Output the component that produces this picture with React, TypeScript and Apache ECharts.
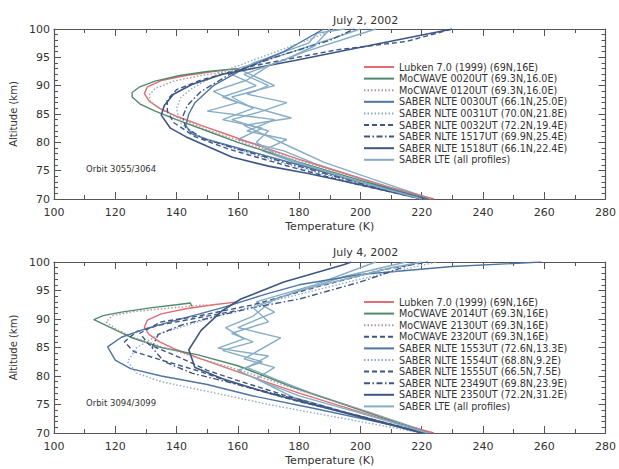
import React, { useEffect, useRef } from "react";
import * as echarts from "echarts";

// ---------- tick labels / axes ----------
const tempTicks = [100, 120, 140, 160, 180, 200, 220, 240, 260, 280];
const altTicks = [70, 75, 80, 85, 90, 95, 100];

// ---------- panel titles ----------
const titles = ["July 2, 2002", "July 4, 2002"];
const orbitLabels = ["Orbit 3055/3064", "Orbit 3094/3099"];

// ---------- Lubken 7.0 model (same in both panels): [T (K), altitude (km)] ----------
const lubkenModel = [[224,70],[210,72],[195,74.5],[180,77],[168,79.2],[157,81.3],[148,83],[140,84.6],[134.5,86],[131,87.3],[129.5,88.6],[130.5,89.8],[135,90.9],[143,91.8],[152,92.5],[160,93]];

// ---------- July 2, 2002 ----------
const mocwave0020 = [[222,70],[200,73.3],[180,76.5],[160,80],[150,82],[140,84],[133,85.5],[128,86.8],[125.5,88],[125.5,88.8],[128,89.8],[133,90.8],[141,91.8],[150,92.5],[160,93]];
const mocwave0120 = [[223,70],[201,73.4],[181,76.7],[162,80],[150,82.2],[141,84.2],[135,85.8],[131.5,87.2],[131,88.3],[133,89.5],[139,90.8],[148,91.8],[158,92.6],[165,93]];
const nlte0030 = [[222,70],[200,73],[180,76],[160,79],[150,80.5],[145,81.5],[143,83],[144,85],[146,87],[152,90],[162,93],[175,96],[188,100]];
const nlte0031 = [[221,70],[199,72.8],[178,75.8],[158,79],[147,81.2],[141,83.5],[140,86],[141.5,88],[145,89.5],[155,92.5],[170,95.5],[185,98.5],[192,100]];
const nlte0032 = [[220,70],[198,72.7],[177,75.7],[157,78.8],[146,81],[139,83.5],[137,85.5],[137,87.5],[140,89.3],[148,91],[165,93.5],[192,96.3],[215,97.8],[230,100]];
const nlte1517 = [[221,70],[199,72.9],[179,75.9],[160,78.8],[149,80.6],[143,82.5],[142,84.5],[143.5,86.5],[148,89],[158,92.2],[172,95],[190,98],[198,100]];
const nlte1518 = [[220,70],[200,72.5],[183,74.5],[170,75.8],[158,77.4],[150,79.3],[143,81],[138,82.5],[135,84.8],[136,86.5],[139,88.5],[145,90.2],[155,92],[179,94.5],[205,97.3],[230,100]];
const lteJul2A = [[220,70],[200,73],[182,76],[172,78],[166,80],[170,82],[158,84],[168,85.5],[176,87],[163,88.5],[170,90],[162,92],[175,94.5],[185,97],[190,100]];
const lteJul2B = [[222,70],[202,73.2],[185,76.3],[175,78.5],[160,80.5],[168,82.5],[155,84],[165,86],[158,88],[172,90],[160,93],[178,96],[200,100]];
const lteJul2C = [[223,70],[204,73.5],[188,76.5],[178,79],[170,81],[162,83],[177.5,84.3],[163,86.5],[155,88],[166,90],[158,92],[165,94],[183,97.5],[186,99.3],[195,100]];
const lteJul2D = [[221,70],[199,73],[181,76],[168,78.5],[176,80.5],[163,82],[172,84],[150,85.5],[160,87],[152,89],[163,91],[170,93.5],[182,96],[205,100]];

// ---------- July 4, 2002 ----------
const mocwave2014 = [[222,70],[200,74],[178,78],[160,81.8],[147,83.7],[135,85],[125,86.8],[118,88.6],[113,89.9],[116,90.6],[122,91.2],[132,92],[140,92.5],[144.5,92.8],[145,92.2]];
const mocwave2130 = [[222,70],[201,74],[180,77.5],[162,80.8],[148,83],[136,85],[126,86.8],[120,88.3],[117,89.5],[119,90.6],[126,91.3],[135,91.8],[150,92.5]];
const mocwave2320 = [[220,70],[200,73],[180,75.5],[160,78.5],[147,80.9],[135,82.8],[126,84.3],[123,86],[127,87.8],[135,89],[147,90.2],[160,91.5]];
const nlte1553 = [[222,70],[205,72],[185,74.3],[165,76.5],[150,78.5],[135,80],[125,81.3],[120,82.8],[117.5,85.1],[122,86.8],[130,88.3],[140,89.8],[155,92],[170,94.5],[180,96],[200,97.8],[230,99.2],[259,100]];
const nlte1554 = [[220,70],[195,72.5],[170,75],[150,77.3],[135,79],[127,80.5],[124,82.5],[127,85],[135,87.5],[150,90],[170,93],[200,97],[225,100]];
const nlte1555 = [[221,70],[198,73.2],[176,76.5],[160,79.2],[150,81],[140,83.5],[131,85.5],[128,87.5],[135,89.5],[147,90.5],[165,92.5],[185,95.5],[207,98.6],[222,100]];
const nlte2349 = [[221,70],[200,72.8],[180,75.8],[160,78.5],[145,80.5],[136,82.5],[132,85],[134,87.3],[142,89],[153,90.5],[165,92],[180,93.5],[200,96.5],[219,100]];
const nlte2350 = [[220,70],[195,73.5],[170,77],[155,79.5],[146,81.5],[144,84.6],[148,88],[155,91.5],[161,93.5],[175,96.5],[194.5,99.5],[197,100]];
const lteJul4A = [[222,70],[200,73.5],[180,76.5],[168,79],[160,81],[168,82.5],[155,84.5],[165,86],[158,87.5],[170,89.5],[165,92],[180,95],[210,99],[220,100]];
const lteJul4B = [[221,70],[198,73.2],[178,76.3],[166,79.5],[172,81.5],[162,83],[174,86.7],[160,88.5],[172,91.2],[166,93],[185,96],[205,100]];
const lteJul4C = [[223,70],[202,73.8],[184,77],[172,79.5],[163,81.5],[170,83.5],[153.5,84.9],[162,86.5],[156,88.5],[165,90.5],[172,93.5],[195,97.5],[215,100]];

// ---------- styles ----------
const C_RED = "#dc6f72";
const C_GREEN = "#4f8a6c";
const C_PINKDOT = "#b8949c";
const C_BLUE = "#4e74a0";
const C_LIGHTDOT = "#8fa9c8";
const C_DARK = "#3d5682";
const C_LTE = "#86acc6";
const DOT = [1.5, 2];
const DASH = [5, 3];
const DASHDOT = [6, 2.5, 1.5, 2.5];
const FONT = "DejaVu Sans";

type Curve = { name: string; data: number[][]; color: string; dash: any; width?: number };

const jul2Curves: Curve[] = [
  { name: "Lubken 7.0 (1999) (69N,16E)", data: lubkenModel, color: C_RED, dash: "solid" },
  { name: "MoCWAVE 0020UT (69.3N,16.0E)", data: mocwave0020, color: C_GREEN, dash: "solid" },
  { name: "MoCWAVE 0120UT (69.3N,16.0E)", data: mocwave0120, color: C_PINKDOT, dash: DOT },
  { name: "SABER NLTE 0030UT (66.1N,25.0E)", data: nlte0030, color: C_BLUE, dash: "solid" },
  { name: "SABER NLTE 0031UT (70.0N,21.8E)", data: nlte0031, color: C_LIGHTDOT, dash: DOT },
  { name: "SABER NLTE 0032UT (72.2N,19.4E)", data: nlte0032, color: C_DARK, dash: DASH },
  { name: "SABER NLTE 1517UT (69.9N,25.4E)", data: nlte1517, color: C_DARK, dash: DASHDOT },
  { name: "SABER NLTE 1518UT (66.1N,22.4E)", data: nlte1518, color: C_DARK, dash: "solid", width: 1.6 },
  { name: "SABER LTE (all profiles)", data: lteJul2A, color: C_LTE, dash: "solid" },
];
const jul2Extra: Curve[] = [
  { name: "SABER LTE (all profiles)", data: lteJul2B, color: C_LTE, dash: "solid" },
  { name: "SABER LTE (all profiles)", data: lteJul2C, color: C_LTE, dash: "solid" },
  { name: "SABER LTE (all profiles)", data: lteJul2D, color: C_LTE, dash: "solid" },
];
const jul4Curves: Curve[] = [
  { name: "Lubken 7.0 (1999) (69N,16E)", data: lubkenModel, color: C_RED, dash: "solid" },
  { name: "MoCWAVE 2014UT (69.3N,16E)", data: mocwave2014, color: C_GREEN, dash: "solid" },
  { name: "MoCWAVE 2130UT (69.3N,16E)", data: mocwave2130, color: C_PINKDOT, dash: DOT },
  { name: "MoCWAVE 2320UT (69.3N,16E)", data: mocwave2320, color: C_DARK, dash: DASH },
  { name: "SABER NLTE 1553UT (72.6N,13.3E)", data: nlte1553, color: C_BLUE, dash: "solid" },
  { name: "SABER NLTE 1554UT (68.8N,9.2E)", data: nlte1554, color: C_LIGHTDOT, dash: DOT },
  { name: "SABER NLTE 1555UT (66.5N,7.5E)", data: nlte1555, color: C_DARK, dash: DASH },
  { name: "SABER NLTE 2349UT (69.8N,23.9E)", data: nlte2349, color: C_DARK, dash: DASHDOT },
  { name: "SABER NLTE 2350UT (72.2N,31.2E)", data: nlte2350, color: C_DARK, dash: "solid", width: 1.6 },
  { name: "SABER LTE (all profiles)", data: lteJul4A, color: C_LTE, dash: "solid" },
];
const jul4Extra: Curve[] = [
  { name: "SABER LTE (all profiles)", data: lteJul4B, color: C_LTE, dash: "solid" },
  { name: "SABER LTE (all profiles)", data: lteJul4C, color: C_LTE, dash: "solid" },
];

const grids = [
  { left: 54, top: 29, width: 558, height: 170 },
  { left: 54, top: 262, width: 558, height: 171 },
];

function buildOption() {
  const axisLine = { show: true, lineStyle: { color: "#555", width: 1.2 } };
  const tick = { show: true, inside: true, length: 7, lineStyle: { color: "#555", width: 1 } };
  const xAxes: any[] = [];
  const yAxes: any[] = [];
  const series: any[] = [];
  const legends: any[] = [];
  const graphics: any[] = [];

  [0, 1].forEach((g) => {
    xAxes.push({
      gridIndex: g, type: "value", position: "bottom",
      min: tempTicks[0], max: tempTicks[tempTicks.length - 1], interval: 20,
      axisLine, axisTick: tick,
      minorTick: { show: true, splitNumber: 2, length: 4, lineStyle: { color: "#555" } },
      splitLine: { show: false },
      axisLabel: { color: "#333", fontSize: 11, fontFamily: FONT, margin: 8 },
      name: "Temperature (K)", nameLocation: "middle", nameGap: 22,
      nameTextStyle: { color: "#333", fontSize: 11, fontFamily: FONT },
    });
    xAxes.push({
      gridIndex: g, type: "value", position: "top",
      min: tempTicks[0], max: tempTicks[tempTicks.length - 1], interval: 20,
      axisLine, axisTick: tick,
      minorTick: { show: true, splitNumber: 2, length: 4, lineStyle: { color: "#555" } },
      splitLine: { show: false }, axisLabel: { show: false },
    });
    yAxes.push({
      gridIndex: g, type: "value", position: "left",
      min: altTicks[0], max: altTicks[altTicks.length - 1], interval: 5,
      axisLine, axisTick: tick,
      minorTick: { show: true, splitNumber: 5, length: 4, lineStyle: { color: "#555" } },
      splitLine: { show: false },
      axisLabel: { color: "#333", fontSize: 11, fontFamily: FONT, margin: 4 },
      name: "Altitude (km)", nameLocation: "middle", nameGap: 33, nameRotate: 90,
      nameTextStyle: { color: "#333", fontSize: 10, fontFamily: FONT },
    });
    yAxes.push({
      gridIndex: g, type: "value", position: "right",
      min: altTicks[0], max: altTicks[altTicks.length - 1], interval: 5,
      axisLine, axisTick: tick,
      minorTick: { show: true, splitNumber: 5, length: 4, lineStyle: { color: "#555" } },
      splitLine: { show: false }, axisLabel: { show: false },
    });

    const main = g === 0 ? jul2Curves : jul4Curves;
    const extra = g === 0 ? jul2Extra : jul4Extra;
    [...extra, ...main].forEach((c) => {
      series.push({
        type: "line", name: c.name, xAxisIndex: g * 2, yAxisIndex: g * 2,
        data: c.data, symbol: "none", showSymbol: false, clip: true,
        lineStyle: { color: c.color, width: c.width ?? 1.4, type: c.dash },
        itemStyle: { color: c.color },
        emphasis: { disabled: true },
      });
    });

    legends.push({
      orient: "vertical", left: 363, top: g === 0 ? 62 : 297,
      padding: 0,
      data: main.map((c) => c.name),
      itemWidth: 30, itemHeight: 8, itemGap: 1.6,
      selectedMode: false,
      itemStyle: { opacity: 0 },
      textStyle: { color: "#333", fontSize: 9.6, fontFamily: FONT },
    });

    graphics.push({
      type: "text", left: 333, top: g === 0 ? 15 : 247,
      style: { text: titles[g], fill: "#333", font: `11px "${FONT}"`, textAlign: "center" },
    });
    graphics.push({
      type: "text", left: 86, top: g === 0 ? 164 : 398,
      style: { text: orbitLabels[g], fill: "#333", font: `8.5px "${FONT}"` },
    });
  });

  return {
    animation: false,
    backgroundColor: "#ffffff",
    grid: grids,
    xAxis: xAxes,
    yAxis: yAxes,
    series,
    legend: legends,
    graphic: graphics,
  };
}

export default function App() {
  const ref = useRef<HTMLDivElement>(null);
  useEffect(() => {
    if (!ref.current) return;
    const chart = echarts.init(ref.current, undefined, { renderer: "svg" });
    chart.setOption(buildOption() as any);
    return () => chart.dispose();
  }, []);
  return <div ref={ref} style={{ width: 619, height: 469, position: "absolute", left: 0, top: 0 }} />;
}
